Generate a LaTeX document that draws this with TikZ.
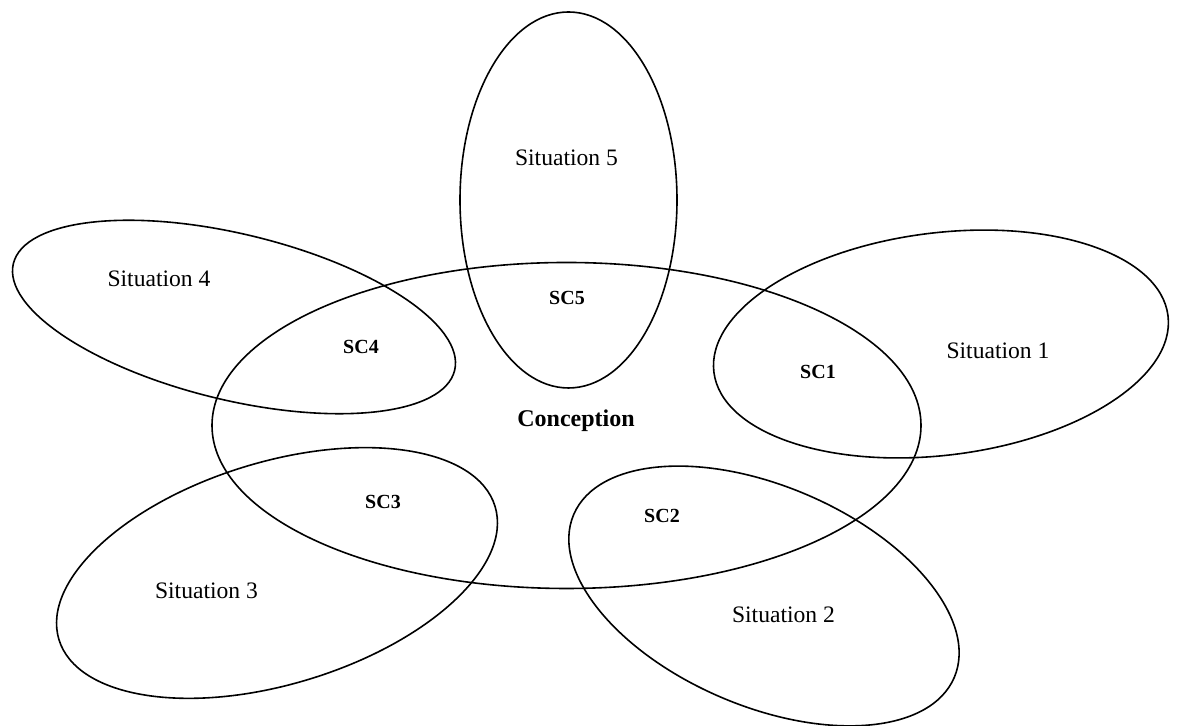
\documentclass[tikz,border=0pt]{standalone}
\usepackage{fontspec}
\setmainfont{Liberation Serif}
\begin{document}
\begin{tikzpicture}[
  ring/.style={draw=black, line width=0.8pt},
  sitlabel/.style={anchor=base, inner sep=0pt, font=\fontsize{11.8}{14}\selectfont},
  sclabel/.style={anchor=base, inner sep=0pt, font=\fontsize{10}{12}\selectfont\bfseries},
  conclabel/.style={anchor=base, inner sep=0pt, font=\fontsize{12}{14}\selectfont\bfseries}
]
\useasboundingbox (0pt,0pt) rectangle (589.5pt,363pt);
% centres
\coordinate (cc) at (283.25pt,150.25pt);
\coordinate (c5) at (284.25pt,263pt);
\coordinate (c4) at (117pt,204.5pt);
\coordinate (c1) at (470.5pt,191pt);
\coordinate (c3) at (138.5pt,76.5pt);
\coordinate (c2) at (382pt,65pt);
% ellipses
\draw[ring] (cc) ellipse [x radius=177.25pt, y radius=81.5pt];
\draw[ring] (c5) ellipse [x radius=54.25pt, y radius=94pt];
\draw[ring, rotate around={-13.6:(c4)}] (c4) ellipse [x radius=113.5pt, y radius=41.5pt];
\draw[ring, rotate around={7.1:(c1)}] (c1) ellipse [x radius=114.4pt, y radius=55.6pt];
\draw[ring, rotate around={17:(c3)}] (c3) ellipse [x radius=114pt, y radius=55.5pt];
\draw[ring, rotate around={-23.2:(c2)}] (c2) ellipse [x radius=103.5pt, y radius=55pt];
% labels
\node[sitlabel] (s5) at (283.25pt,280pt) {Situation 5};
\node[sclabel] (sc5) at (283.5pt,210.5pt) {SC5};
\node[sitlabel] (s4) at (79.5pt,219.7pt) {Situation 4};
\node[sclabel] (sc4) at (180.5pt,186.3pt) {SC4};
\node[sitlabel] (s1) at (499pt,183.8pt) {Situation 1};
\node[sclabel] (sc1) at (409pt,173.8pt) {SC1};
\node[sitlabel] (s3) at (103.25pt,63.8pt) {Situation 3};
\node[sclabel] (sc3) at (191.5pt,108.8pt) {SC3};
\node[sitlabel] (s2) at (391.75pt,51.8pt) {Situation 2};
\node[sclabel] (sc2) at (331pt,101.8pt) {SC2};
\node[conclabel] (conc) at (288pt,149.5pt) {Conception};
\end{tikzpicture}
\end{document}
